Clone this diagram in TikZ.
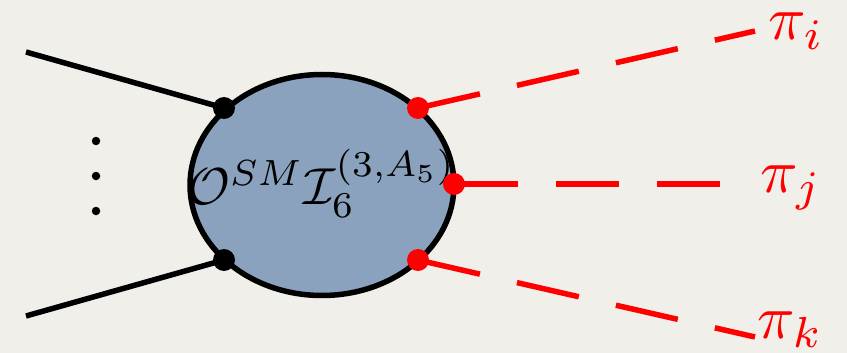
\documentclass[tikz,border=0pt]{standalone}
\usepackage{graphicx}
\usepackage{amsmath}
\usetikzlibrary{shapes.geometric}
\definecolor{paper}{HTML}{F1EFEA}
\definecolor{blob}{HTML}{8AA2BD}
\definecolor{inkred}{HTML}{FE0000}
\tikzset{
  leg/.style={line width=5.5pt,black},
  redleg/.style={line width=5.5pt,inkred,dash pattern=on 63.5pt off 38pt},
  blackdot/.style={circle,fill=black,inner sep=0pt,minimum size=22pt},
  reddot/.style={circle,fill=inkred,inner sep=0pt,minimum size=22pt},
  smalldot/.style={circle,fill=black,inner sep=0pt,minimum size=8.5pt},
  plabel/.style={text=inkred,inner sep=0pt}
}
\begin{document}
\begin{tikzpicture}[x=1pt,y=-1pt]
\useasboundingbox (0,0) rectangle (847,353);
\fill[paper] (0,0) rectangle (847,353);
\node[ellipse,draw=black,line width=5.5pt,fill=blob,minimum width=264pt,minimum height=221pt,inner sep=0pt] (blobnode) at (322,185) {};
\node[blackdot] (b1) at (224,108) {};
\node[blackdot] (b2) at (224,260) {};
\coordinate (in1) at (26,52);
\coordinate (in2) at (26,316);
\coordinate (o1) at (755,31);
\coordinate (o2) at (720,184);
\coordinate (o3) at (755,337);
\draw[leg] (in1) -- (b1.center);
\draw[leg] (in2) -- (b2.center);
\node[anchor=base west,inner sep=0pt] (lab) at (187,204) {\scalebox{5.2}{$\mathcal{O}^{SM}\mathcal{I}_{6}^{(3,A_5)}$}};
\node[reddot] (r1) at (418,108) {};
\node[reddot] (r2) at (454,184) {};
\node[reddot] (r3) at (418,260) {};
\draw[redleg] (r1.center) -- (o1);
\draw[redleg] (r2.center) -- (o2);
\draw[redleg] (r3.center) -- (o3);
\node[smalldot] (d1) at (96,141) {};
\node[smalldot] (d2) at (96,176) {};
\node[smalldot] (d3) at (96,211) {};
\node[plabel,anchor=base west] (pi) at (768,40) {\scalebox{6.2}{$\pi_i$}};
\node[plabel,anchor=base west] (pj) at (760,192) {\scalebox{6.2}{$\pi_j$}};
\node[plabel,anchor=base west] (pk) at (757,338) {\scalebox{6.2}{$\pi_k$}};
\end{tikzpicture}
\end{document}
